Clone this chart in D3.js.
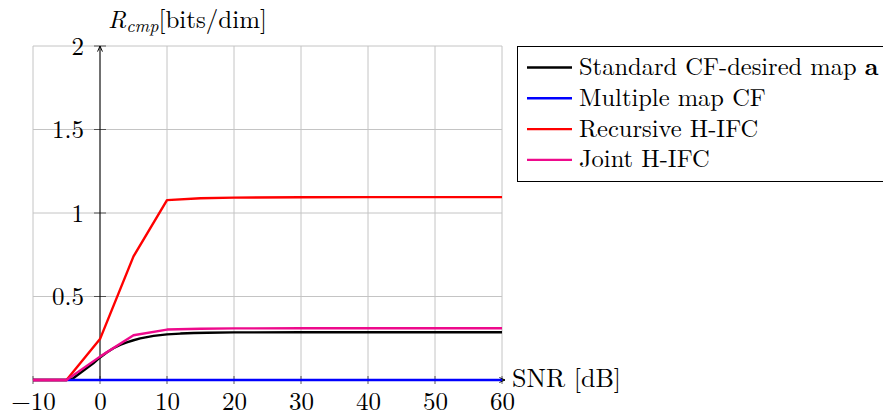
<!DOCTYPE html>
<html>
<head>
<meta charset="utf-8">
<script src="https://cdn.jsdelivr.net/npm/d3@7"></script>
<style>
body { margin: 0; background: #fff; }
</style>
</head>
<body>
<div id="chart"></div>
<script>
var w = 883;
var h = 419;
var font = "Latin Modern Roman";
var fs = 25;

// data
var snr = [-10, -5, -4, -3, -2, -1, 0, 1, 2, 3, 4, 5, 6, 7, 8, 9, 10, 12, 14, 16, 20, 30, 40, 50, 60];
var standardCF = [0, 0, 0.01, 0.04, 0.07, 0.10, 0.135, 0.165, 0.19, 0.21, 0.225, 0.238, 0.249, 0.257, 0.264, 0.269, 0.273, 0.278, 0.281, 0.283, 0.285, 0.286, 0.286, 0.286, 0.286];
var snrCoarse = [-10, -5, 0, 5, 10, 15, 20, 30, 40, 50, 60];
var multipleCF = [0, 0, 0, 0, 0, 0, 0, 0, 0, 0, 0];
var recursiveHIFC = [0, 0, 0.245, 0.74, 1.077, 1.088, 1.092, 1.094, 1.095, 1.095, 1.095];
var jointHIFC = [0, 0, 0.14, 0.268, 0.302, 0.307, 0.309, 0.31, 0.31, 0.31, 0.31];

var xTicks = [-10, 0, 10, 20, 30, 40, 50, 60];
var yTicks = [0.5, 1, 1.5, 2];
var seriesNames = ["Standard CF-desired map ", "Multiple map CF", "Recursive H-IFC", "Joint H-IFC"];
var seriesColors = ["#000000", "#0000ff", "#ff0000", "#ee0a8c"];

var x = d3.scaleLinear().domain([-10, 60]).range([33, 502]);
var y = d3.scaleLinear().domain([0, 2]).range([380, 46]);

var svg = d3.select("#chart").append("svg").attr("width", w).attr("height", h);

// grid
svg.append("g").selectAll("line").data(xTicks).enter().append("line")
    .attr("x1", function (d) { return x(d); }).attr("x2", function (d) { return x(d); })
    .attr("y1", y(0)).attr("y2", y(2))
    .attr("stroke", "#c4c4c4").attr("stroke-width", 1);
svg.append("g").selectAll("line").data(yTicks).enter().append("line")
    .attr("x1", x(-10)).attr("x2", x(60))
    .attr("y1", function (d) { return y(d); }).attr("y2", function (d) { return y(d); })
    .attr("stroke", "#c4c4c4").attr("stroke-width", 1);

// tick labels through d3 axes
var yAxis = svg.append("g").attr("transform", "translate(" + x(0) + ",0)")
    .call(d3.axisLeft(y).tickValues(yTicks).tickSize(0).tickPadding(16)
        .tickFormat(function (d) { return d; }));
var xAxis = svg.append("g").attr("transform", "translate(0," + y(0) + ")")
    .call(d3.axisBottom(x).tickValues(xTicks).tickSize(0).tickPadding(12)
        .tickFormat(function (d) { return d < 0 ? "\u2212" + Math.abs(d) : d; }));
[yAxis, xAxis].forEach(function (a) {
    a.select(".domain").remove();
    a.attr("font-family", font).attr("font-size", fs);
    a.selectAll("text").attr("fill", "#000");
});

// small ticks across axes
svg.append("g").selectAll("line").data(yTicks).enter().append("line")
    .attr("x1", x(0) - 6).attr("x2", x(0) + 6)
    .attr("y1", function (d) { return y(d); }).attr("y2", function (d) { return y(d); })
    .attr("stroke", "#333").attr("stroke-width", 0.8);
svg.append("g").selectAll("line").data(xTicks).enter().append("line")
    .attr("x1", function (d) { return x(d); }).attr("x2", function (d) { return x(d); })
    .attr("y1", y(0) - 4).attr("y2", y(0) + 4)
    .attr("stroke", "#333").attr("stroke-width", 0.8);

// axis arrows
svg.append("defs").append("marker").attr("id", "arr")
    .attr("viewBox", "0 0 10 10").attr("refX", 9).attr("refY", 5)
    .attr("markerWidth", 7).attr("markerHeight", 7).attr("orient", "auto")
    .append("path").attr("d", "M1,1.5 L9,5 L1,8.5").attr("fill", "none")
    .attr("stroke", "#000").attr("stroke-width", 1.4);
svg.append("line").attr("x1", x(0)).attr("x2", x(0)).attr("y1", y(0)).attr("y2", y(2))
    .attr("stroke", "#000").attr("stroke-width", 1).attr("marker-end", "url(#arr)");
svg.append("line").attr("x1", x(-10)).attr("x2", x(60) + 3).attr("y1", y(0)).attr("y2", y(0))
    .attr("stroke", "#000").attr("stroke-width", 1).attr("marker-end", "url(#arr)");

// series
var line = d3.line().x(function (d) { return x(d[0]); }).y(function (d) { return y(d[1]); });
var seriesData = [
    d3.zip(snr, standardCF),
    d3.zip(snrCoarse, multipleCF),
    d3.zip(snrCoarse, recursiveHIFC),
    d3.zip(snrCoarse, jointHIFC)
];
seriesData.forEach(function (s, i) {
    svg.append("path").datum(s).attr("d", line)
        .attr("fill", "none").attr("stroke", seriesColors[i])
        .attr("stroke-width", 2.4).attr("stroke-linejoin", "round");
});

// axis labels
var yl = svg.append("text").attr("x", 108).attr("y", 28)
    .attr("font-family", font).attr("font-size", fs);
yl.append("tspan").attr("font-style", "italic").text("R");
yl.append("tspan").attr("font-style", "italic").attr("font-size", 18).attr("dy", 4).text("cmp");
yl.append("tspan").attr("dy", -4).text("[bits/dim]");
svg.append("text").attr("x", 512).attr("y", 387)
    .attr("font-family", font).attr("font-size", fs + 1).text("SNR [dB]");

// legend
var lg = svg.append("g").attr("font-family", font).attr("font-size", 24.5);
lg.append("rect").attr("x", 517.5).attr("y", 46.5).attr("width", 380).attr("height", 135)
    .attr("fill", "#fff").attr("stroke", "#000").attr("stroke-width", 1);
seriesNames.forEach(function (n, i) {
    var ly = 67.5 + i * 30.8;
    lg.append("line").attr("x1", 527).attr("x2", 572).attr("y1", ly).attr("y2", ly)
        .attr("stroke", seriesColors[i]).attr("stroke-width", 2.4);
    var t = lg.append("text").attr("x", 579).attr("y", ly + 7.5).text(n);
    if (i == 0) t.append("tspan").attr("font-weight", "bold").text("a");
});
</script>
</body>
</html>
